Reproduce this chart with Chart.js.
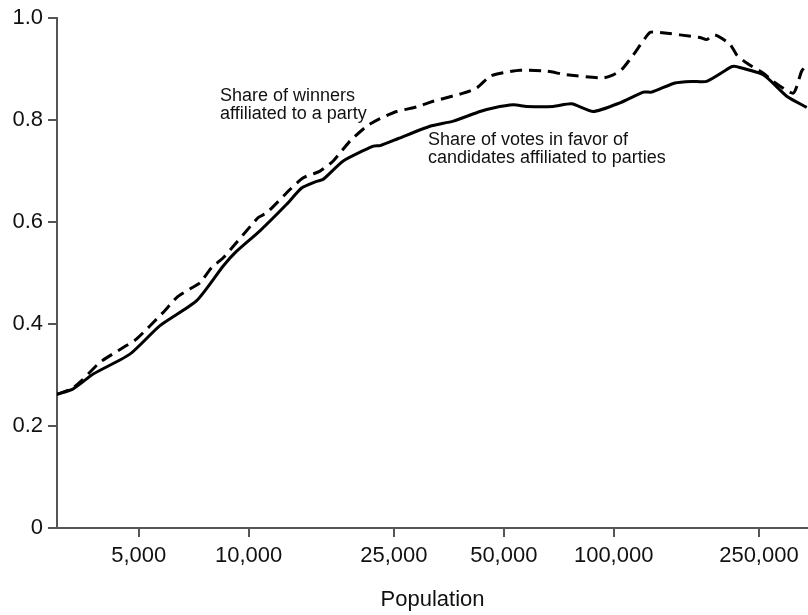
<!DOCTYPE html>
<html>
<head>
<meta charset="utf-8">
<script src="https://cdn.jsdelivr.net/npm/chart.js@4/dist/chart.umd.min.js"></script>
<style>
  html, body { margin: 0; padding: 0; background: #fff; }
  #c { display: block; }
</style>
</head>
<body>
<canvas id="c" width="808" height="615"></canvas>
<script>
// Municipality population (log scale) and the share of party-affiliated outcomes
const popVotes = [2985, 3307, 3752, 4729, 5715, 7204, 8519, 9270, 10739, 12707, 13970, 15360, 16010,
  18160, 21950, 22890, 25700, 31390, 36350, 43020, 46790, 53080, 57760, 68320, 76720, 87930, 104060,
  120530, 127080, 147220, 163560, 179820, 210550, 217300, 257000, 297900, 338000];
const shareVotes = [0.262, 0.273, 0.302, 0.341, 0.397, 0.446, 0.514, 0.543, 0.583, 0.635, 0.667, 0.680, 0.684,
  0.720, 0.749, 0.750, 0.764, 0.788, 0.798, 0.817, 0.824, 0.830, 0.827, 0.827, 0.832, 0.817, 0.834,
  0.855, 0.855, 0.873, 0.876, 0.876, 0.905, 0.905, 0.889, 0.847, 0.825];

const popWinners = [2985, 3307, 3486, 3915, 4532, 4933, 5834, 6350, 6905, 7356, 7918, 8519, 10624, 11202,
  12979, 14113, 15680, 17050, 18950, 21050, 22890, 25440, 28860, 32050, 38720, 42140, 45820, 49840,
  55380, 65540, 74330, 93650, 99750, 105170, 113170, 125730, 133880, 172330, 179820, 189470, 208290,
  217300, 231400, 257000, 273700, 310500, 327300, 340700];
const shareWinners = [0.262, 0.275, 0.289, 0.325, 0.354, 0.371, 0.423, 0.452, 0.469, 0.481, 0.511, 0.530, 0.609, 0.618,
  0.664, 0.687, 0.700, 0.720, 0.759, 0.788, 0.803, 0.817, 0.826, 0.837, 0.853, 0.863, 0.886, 0.893,
  0.898, 0.896, 0.889, 0.883, 0.889, 0.899, 0.928, 0.972, 0.972, 0.962, 0.958, 0.967, 0.949,
  0.928, 0.912, 0.892, 0.876, 0.853, 0.896, 0.912];

const xTicks = [5000, 10000, 25000, 50000, 100000, 250000];
const yTicks = [0, 0.2, 0.4, 0.6, 0.8, 1.0];

const labelWinners = ['Share of winners', 'affiliated to a party'];
const labelVotes = ['Share of votes in favor of', 'candidates affiliated to parties'];

const toPoints = (xs, ys) => xs.map((x, i) => ({ x: x, y: ys[i] }));

const AXIS = '#555555';
const FONT = 'Arial, "Liberation Sans", sans-serif';

// Inline labels beside the two curves
const curveLabels = {
  id: 'curveLabels',
  afterDraw(chart) {
    const ctx = chart.ctx;
    ctx.save();
    ctx.fillStyle = '#111';
    ctx.font = '18px ' + FONT;
    ctx.textAlign = 'left';
    ctx.textBaseline = 'alphabetic';
    labelWinners.forEach((t, i) => ctx.fillText(t, 220, 101 + i * 17.5));
    labelVotes.forEach((t, i) => ctx.fillText(t, 428, 145 + i * 17.5));
    ctx.restore();
  }
};

new Chart(document.getElementById('c'), {
  type: 'line',
  data: {
    datasets: [
      {
        label: 'Share of winners affiliated to a party',
        data: toPoints(popWinners, shareWinners),
        borderColor: '#000',
        borderWidth: 3,
        borderDash: [12, 7],
        pointRadius: 0,
        tension: 0.2,
        fill: false
      },
      {
        label: 'Share of votes in favor of candidates affiliated to parties',
        data: toPoints(popVotes, shareVotes),
        borderColor: '#000',
        borderWidth: 3,
        pointRadius: 0,
        tension: 0.2,
        fill: false
      }
    ]
  },
  options: {
    responsive: false,
    animation: false,
    devicePixelRatio: 1,
    layout: { padding: { top: 17, right: 0, left: 0, bottom: 0 } },
    plugins: {
      legend: { display: false },
      tooltip: { enabled: false }
    },
    scales: {
      x: {
        type: 'logarithmic',
        min: 2985,
        max: 340700,
        afterBuildTicks(scale) {
          scale.ticks = xTicks.map(v => ({ value: v }));
        },
        afterFit(scale) { scale.height = 87; },
        border: { display: true, color: AXIS, width: 2 },
        grid: { display: true, drawOnChartArea: false, drawTicks: true, tickLength: 9, color: AXIS, lineWidth: 2 },
        ticks: {
          autoSkip: false,
          maxRotation: 0,
          padding: 6,
          color: '#111',
          font: { family: FONT, size: 22 },
          callback: v => Number(v).toLocaleString('en-US')
        },
        title: {
          display: true,
          text: 'Population',
          color: '#111',
          font: { family: FONT, size: 22 },
          padding: { top: 4, bottom: 2 }
        }
      },
      y: {
        type: 'linear',
        min: 0,
        max: 1,
        afterBuildTicks(scale) {
          scale.ticks = yTicks.map(v => ({ value: v }));
        },
        afterFit(scale) { scale.width = 57; },
        border: { display: true, color: AXIS, width: 2 },
        grid: { display: true, drawOnChartArea: false, drawTicks: true, tickLength: 9, color: AXIS, lineWidth: 2 },
        ticks: {
          padding: 5,
          color: '#111',
          font: { family: FONT, size: 22 },
          callback: v => (v === 0 ? '0' : Number(v).toFixed(1))
        }
      }
    }
  },
  plugins: [curveLabels]
});
</script>
</body>
</html>
